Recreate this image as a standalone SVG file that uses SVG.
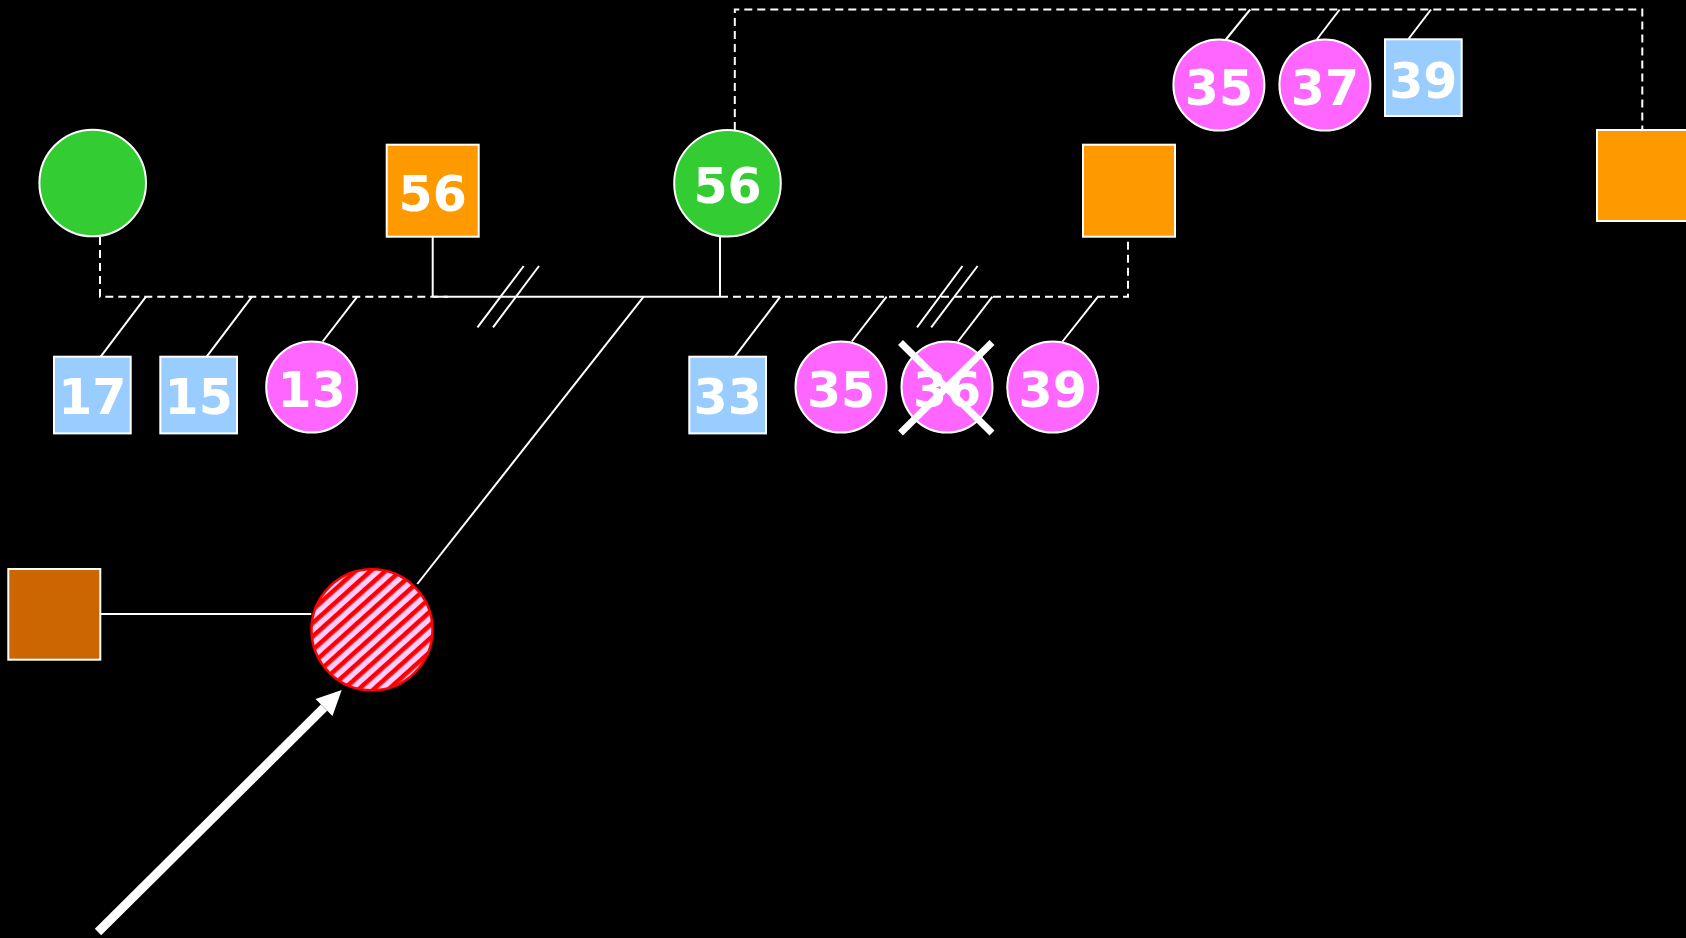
<svg xmlns="http://www.w3.org/2000/svg" width="1686" height="938" viewBox="0 0 1686 938">
<style>
.ln{stroke:#fff;stroke-width:2;fill:none}
.dash{stroke:#fff;stroke-width:2;fill:none;stroke-dasharray:8 5}
.nd{stroke:#fff;stroke-width:2}
.green{fill:#33cc33}
.orange{fill:#ff9900}
.blue{fill:#99ccff}
.pink{fill:#ff66ff}
.brown{fill:#cc6600}
.t{font-family:"DejaVu Sans",Verdana,sans-serif;font-weight:bold;font-size:49px;fill:#fff;text-anchor:middle}
</style>
<defs>
<pattern id="hatch" width="10" height="10" patternUnits="userSpaceOnUse" patternTransform="rotate(48)">
<rect width="10" height="10" fill="#ffccff"/>
<rect width="4.6" height="10" fill="#ff0000"/>
</pattern>
</defs>
<rect width="1686" height="938" fill="#000"/>
<g id="connectors">
<polyline class="dash" points="100,237 100,296.7 448,296.7"/>
<line class="ln" x1="432.7" y1="236.7" x2="432.7" y2="296.7"/>
<line class="ln" x1="432.7" y1="296.7" x2="720" y2="296.7"/>
<line class="ln" x1="720" y1="236.7" x2="720" y2="296.7"/>
<polyline class="dash" points="720,296.7 1128,296.7 1128,236.7"/>
<polyline class="dash" points="734.8,130 734.8,9.5 1642.3,9.5 1642.3,130"/>
<line class="ln" x1="477.5" y1="327.3" x2="523.7" y2="266"/>
<line class="ln" x1="493" y1="327.3" x2="539" y2="266"/>
<line class="ln" x1="917" y1="327.3" x2="962.5" y2="266"/>
<line class="ln" x1="931.2" y1="327.3" x2="977.6" y2="266"/>
<line class="ln" x1="146" y1="296.7" x2="100.7" y2="356.7"/>
<line class="ln" x1="252" y1="296.7" x2="206.7" y2="356.7"/>
<line class="ln" x1="357.3" y1="296.7" x2="322.7" y2="341.5"/>
<line class="ln" x1="780.3" y1="296.7" x2="734.8" y2="356.7"/>
<line class="ln" x1="886.6" y1="296.7" x2="851.8" y2="341.5"/>
<line class="ln" x1="992.4" y1="296.7" x2="958" y2="341.5"/>
<line class="ln" x1="1098" y1="296.7" x2="1062.5" y2="341.5"/>
<line class="ln" x1="1250.2" y1="9.5" x2="1225.9" y2="39.5"/>
<line class="ln" x1="1339.7" y1="9.5" x2="1316.8" y2="39.5"/>
<line class="ln" x1="1431" y1="9.5" x2="1408.1" y2="39.5"/>
<line class="ln" x1="643.7" y1="296.7" x2="417.3" y2="584"/>
<line class="ln" x1="100.3" y1="614" x2="311.3" y2="614"/>
<line x1="98" y1="932" x2="324" y2="707.6" stroke="#fff" stroke-width="9"/>
<polygon points="341.7,690 332.5,716.1 315.5,699.1" fill="#fff"/>
</g>
<g id="n-green1"><circle class="nd green" cx="92.7" cy="183" r="53.3"/></g>
<g id="n-56box"><rect class="nd orange" x="386.7" y="144.7" width="92" height="92"/><text class="t" x="432.7" y="210.5">56</text></g>
<g id="n-56circle"><circle class="nd green" cx="727.5" cy="183.3" r="53.3"/><text class="t" x="727.5" y="203">56</text></g>
<g id="n-orange2"><rect class="nd orange" x="1083" y="144.7" width="92" height="92"/></g>
<g id="n-orange3"><rect class="nd orange" x="1597" y="130" width="92" height="91"/></g>
<g id="n-17"><rect class="nd blue" x="54" y="356.7" width="76.7" height="76.7"/><text class="t" x="92.3" y="414">17</text></g>
<g id="n-15"><rect class="nd blue" x="160.3" y="356.7" width="76.7" height="76.7"/><text class="t" x="198.7" y="414">15</text></g>
<g id="n-13"><circle class="nd pink" cx="311.7" cy="387" r="45.5"/><text class="t" x="311.7" y="406.7">13</text></g>
<g id="n-33"><rect class="nd blue" x="689.3" y="356.7" width="76.7" height="76.7"/><text class="t" x="727.7" y="414">33</text></g>
<g id="n-35b"><circle class="nd pink" cx="841" cy="387" r="45.5"/><text class="t" x="841" y="406.7">35</text></g>
<g id="n-36"><circle class="nd pink" cx="947" cy="387" r="45.5"/><text class="t" x="947" y="406.7">36</text>
<line x1="900.5" y1="342.5" x2="992" y2="433" stroke="#fff" stroke-width="7"/>
<line x1="992" y1="342.5" x2="900.5" y2="433" stroke="#fff" stroke-width="7"/></g>
<g id="n-39b"><circle class="nd pink" cx="1052.7" cy="387" r="45.5"/><text class="t" x="1052.7" y="406.7">39</text></g>
<g id="n-35t"><circle class="nd pink" cx="1218.9" cy="85" r="45.5"/><text class="t" x="1218.9" y="105">35</text></g>
<g id="n-37t"><circle class="nd pink" cx="1324.9" cy="85" r="45.5"/><text class="t" x="1324.9" y="105">37</text></g>
<g id="n-39t"><rect class="nd blue" x="1385" y="39.3" width="76.7" height="76.7"/><text class="t" x="1423.3" y="97.7">39</text></g>
<g id="n-brown"><rect class="nd brown" x="8.3" y="569" width="92" height="90.7"/></g>
<g id="n-hatched"><circle cx="372" cy="629.8" r="60.5" fill="url(#hatch)" stroke="#ff0000" stroke-width="2.5"/></g>
</svg>
